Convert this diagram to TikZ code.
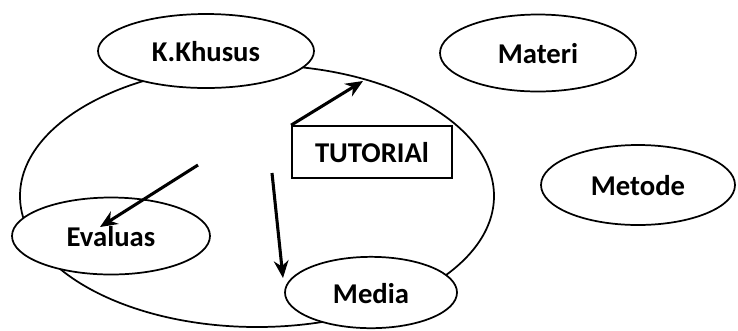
\documentclass[tikz,border=0pt]{standalone}
\usepackage{fontspec}
\setmainfont{Carlito}
\usetikzlibrary{shapes.geometric,arrows.meta}

\tikzset{every picture/.style={line width=0.75pt}}
\tikzset{
	oval/.style={draw, ellipse, fill=white, line width=1.3pt, inner sep=0pt,
		text height=16pt, text depth=0pt, font=\fontsize{21.5}{25}\selectfont\bfseries},
	tutorbox/.style={draw, rectangle, fill=white, line width=1.3pt, inner sep=0pt,
		minimum width=120pt, minimum height=39pt,
		text height=16pt, text depth=0pt, font=\fontsize{21.5}{25}\selectfont\bfseries},
	thickarrow/.style={line width=2.3pt, -{Stealth[length=13pt,width=11pt]}}
}

\begin{document}
\begin{tikzpicture}[x=0.75pt,y=0.75pt,yscale=-1,xscale=1]
	\useasboundingbox (0,0) rectangle (738,330);

	%Shape: Ellipse
	\draw [line width=1.3pt] (257,196) ellipse (237 and 131);

	%Shape: Ellipse
	\node [oval, minimum width=162pt, minimum height=55.5pt] (khusus) at (206,51) {K.Khusus};
	%Shape: Ellipse
	\node [oval, minimum width=147pt, minimum height=57.75pt] (materi) at (538,53) {Materi};
	%Shape: Ellipse
	\node [oval, minimum width=145.5pt, minimum height=60pt] (metode) at (638,185) {Metode};
	%Shape: Ellipse
	\node [oval, minimum width=148.5pt, minimum height=57.75pt] (evaluas) at (111,236) {Evaluas};
	%Shape: Ellipse
	\node [oval, minimum width=129pt, minimum height=53.5pt] (media) at (371,292.5) {Media};

	%Shape: Rectangle
	\node [tutorbox] (tutorial) at (372,152) {TUTORIAl};

	%Straight Lines
	\coordinate (tip1) at (363,81);
	\draw [thickarrow] (tutorial.north west) -- (tip1);
	%Straight Lines
	\coordinate (from2) at (198,165);
	\coordinate (tip2) at (100,227);
	\draw [thickarrow] (from2) -- (tip2);
	%Straight Lines
	\coordinate (from3) at (272,173);
	\coordinate (tip3) at (283,278);
	\draw [thickarrow] (from3) -- (tip3);

\end{tikzpicture}
\end{document}
